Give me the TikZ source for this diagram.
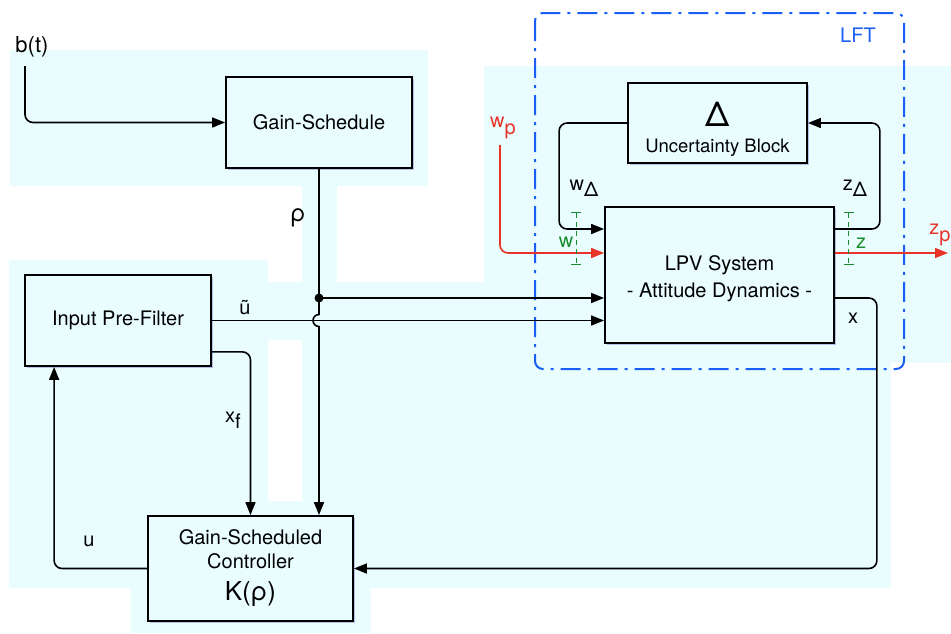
\documentclass[tikz,border=0pt]{standalone}
\usepackage{fontspec}
\setmainfont{TeX Gyre Heros}
\usepackage{xcolor}
\usepackage{tikz}
\usetikzlibrary{arrows.meta,calc,positioning,shadows}
\definecolor{bgcyan}{RGB}{233,253,255}
\definecolor{lftblue}{RGB}{25,95,245}
\definecolor{sigred}{RGB}{232,52,40}
\definecolor{cutgreen}{RGB}{25,140,45}
\newcommand{\lowidx}[2]{#1\raisebox{-0.6ex}{#2}}

\begin{document}
\begin{tikzpicture}[
  x=1pt,y=1pt,
  font=\fontsize{20}{24}\selectfont,
  blk/.style={draw,line width=1.8pt,fill=bgcyan,align=center,inner sep=2pt,
    drop shadow={shadow xshift=1.5pt,shadow yshift=-1.5pt,fill=blue!50!gray,opacity=0.3}},
  arr/.style={-{Triangle[length=13pt,width=10pt]},line width=1.6pt},
  redarr/.style={arr,draw=sigred,-{Triangle[length=13pt,width=10pt,fill=sigred]}},
  cutmark/.style={draw=cutgreen,line width=1pt,dash pattern=on 5pt off 4pt,{Bar[width=10pt]}-{Bar[width=10pt]}},
  lft/.style={draw=lftblue,line width=2pt,rounded corners=8pt,dash pattern=on 20pt off 7pt on 3pt off 7pt}
]
\useasboundingbox (0,0) rectangle (951,-633);

% light background patches
\fill[bgcyan] (10,-50) rectangle (428,-186);
\fill[bgcyan] (302,-186) rectangle (337,-282);
\fill[bgcyan] (484,-66) rectangle (951,-363);
\fill[bgcyan] (9,-260) rectangle (268,-588);
\fill[bgcyan] (268,-282) rectangle (891,-588);
\fill[white] (268,-340) rectangle (302,-501);
\fill[bgcyan] (131,-588) rectangle (371,-633);

% LFT frame
\draw[lft] (535,-13) rectangle (904,-369);
\node[text=lftblue] (lftlbl) at (858,-35) {LFT};

% blocks
\node[blk,minimum width=186pt,minimum height=91pt] (gs) at (319,-122.5) {Gain-Schedule};
\node[blk,minimum width=179pt,minimum height=80pt] (unc) at (717.5,-123)
  {\rule{0pt}{37pt}{\fontsize{34}{34}\selectfont Δ}\\[2pt]{\fontsize{18.5}{22}\selectfont Uncertainty Block}};
\node[blk,minimum width=229pt,minimum height=136pt] (lpv) at (719.5,-275)
  {\rule{0pt}{23pt}LPV System\\[3pt]- Attitude Dynamics -};
\node[blk,minimum width=186pt,minimum height=91pt] (pf) at (118,-320.5) {Input Pre-Filter};
\node[blk,minimum width=205pt,minimum height=105pt] (ctrl) at (250.5,-568.5)
  {Gain-Scheduled\\Controller\\[8pt]{\fontsize{26}{26}\selectfont K(ρ)}};

% signal labels
\node[font=\fontsize{22}{26}\selectfont] (btlbl) at (32,-47) {b(t)};
\node[font=\fontsize{24}{28}\selectfont] (rholbl) at (298,-218) {ρ};
\node (utlbl) at (245,-308) {ũ};
\node (xflbl) at (233,-420) {\lowidx{x}{f}};
\node (ulbl) at (89,-541) {u};
\node (xlbl) at (853,-318) {x};
\node (wdlbl) at (584,-188) {\lowidx{w}{Δ}};
\node (zdlbl) at (855,-188) {\lowidx{z}{Δ}};
\node[text=sigred] (wplbl) at (503,-128) {\lowidx{w}{p}};
\node[text=sigred] (zplbl) at (940,-235) {\lowidx{z}{p}};
\node[text=cutgreen] (wlbl) at (566,-242) {w};
\node[text=cutgreen] (zlbl) at (861,-243) {z};

\coordinate (bt) at (25,-66);
\coordinate (dot) at (319,-298);
\coordinate (wp) at (500,-145);
\coordinate (zp) at (948,-253);

% connectors
\draw[arr,rounded corners=8pt] (bt) |- (gs.west);
\draw[arr] (gs.south) -- ($(gs.south |- pf.east)+(0,6)$)
  arc[start angle=90,end angle=270,radius=6pt] -- (gs.south |- ctrl.north);
\fill (dot) circle (4.5pt);
\draw[arr] (dot) -- (dot -| lpv.west);
\draw[arr] (pf.east) -- (pf.east -| lpv.west);
\draw[arr,rounded corners=8pt] ([yshift=15pt]pf.south east) -| (ctrl.north);
\draw[arr,rounded corners=8pt] (ctrl.west) -| ([xshift=30pt]pf.south west);
\draw[arr,rounded corners=8pt] (lpv.east |- dot) -- ++(42,0) |- (ctrl.east);
\draw[arr,rounded corners=8pt] (unc.west) -- ++(-68,0) |- ([yshift=46pt]lpv.west);
\draw[arr,rounded corners=8pt] ([yshift=46pt]lpv.east) -- ++(45,0) |- (unc.east);
\draw[redarr,rounded corners=8pt] (wp) |- ([yshift=22pt]lpv.west);
\draw[redarr] ([yshift=22pt]lpv.east) -- (zp);

% loop cuts
\draw[cutmark] ($(lpv.west)+(-28,63)$) -- ++(0,-53);
\draw[cutmark] ($(lpv.east)+(14,63)$) -- ++(0,-53);
\end{tikzpicture}
\end{document}
